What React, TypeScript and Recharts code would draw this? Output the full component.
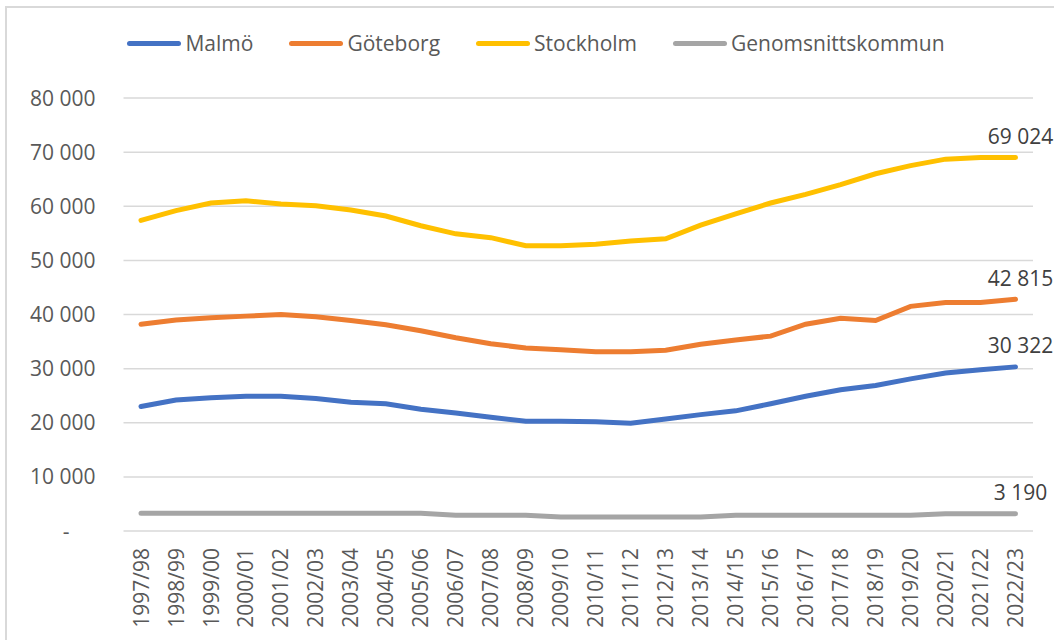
import { CartesianGrid, LabelList, Line, LineChart, XAxis, YAxis } from "recharts";

const years = [
  "1997/98", "1998/99", "1999/00", "2000/01", "2001/02", "2002/03", "2003/04",
  "2004/05", "2005/06", "2006/07", "2007/08", "2008/09", "2009/10", "2010/11",
  "2011/12", "2012/13", "2013/14", "2014/15", "2015/16", "2016/17", "2017/18",
  "2018/19", "2019/20", "2020/21", "2021/22", "2022/23",
];

const malmo = [
  23000, 24200, 24600, 24900, 24900, 24500, 23800, 23500, 22500, 21800, 21000,
  20300, 20300, 20200, 19900, 20700, 21500, 22200, 23500, 24900, 26100, 26900,
  28100, 29200, 29800, 30322,
];

const goteborg = [
  38200, 39000, 39400, 39700, 40000, 39600, 38900, 38100, 37000, 35700, 34600,
  33800, 33500, 33100, 33100, 33400, 34500, 35300, 36000, 38200, 39300, 38900,
  41500, 42200, 42200, 42815,
];

const stockholm = [
  57400, 59200, 60600, 61000, 60400, 60100, 59300, 58200, 56400, 54900, 54200,
  52700, 52700, 53000, 53600, 54000, 56500, 58600, 60600, 62200, 64000, 66000,
  67500, 68700, 69000, 69024,
];

const genomsnitt = [
  3300, 3300, 3300, 3300, 3300, 3300, 3300, 3300, 3300, 2900, 2900, 2900, 2600,
  2600, 2600, 2600, 2600, 2900, 2900, 2900, 2900, 2900, 2900, 3200, 3200, 3190,
];

const yTicks = [0, 10000, 20000, 30000, 40000, 50000, 60000, 70000, 80000];

const series = [
  { key: "malmo", name: "Malmö", color: "#4472C4" },
  { key: "goteborg", name: "Göteborg", color: "#ED7D31" },
  { key: "stockholm", name: "Stockholm", color: "#FFC000" },
  { key: "genomsnitt", name: "Genomsnittskommun", color: "#A5A5A5" },
];

const data = years.map((year, i) => ({
  year,
  malmo: malmo[i],
  goteborg: goteborg[i],
  stockholm: stockholm[i],
  genomsnitt: genomsnitt[i],
}));

const FONT = "'Open Sans', sans-serif";
const fmt = (v: number) => String(Math.round(v)).replace(/\B(?=(\d{3})+(?!\d))/g, " ");

const YTick = ({ x, y, payload }: any) => (
  <text
    x={payload.value === 0 ? x - 26 : x}
    y={y}
    dy="0.36em"
    textAnchor="end"
    fill="#595959"
    fontSize={21}
    fontFamily={FONT}
  >
    {payload.value === 0 ? "-" : fmt(payload.value)}
  </text>
);

const XTick = ({ x, y, payload }: any) => (
  <text
    x={x}
    y={y}
    dy="0.36em"
    transform={`rotate(-90, ${x}, ${y})`}
    textAnchor="end"
    fill="#595959"
    fontSize={21}
    fontFamily={FONT}
  >
    {payload.value}
  </text>
);

const endLabel = (props: any) => {
  const { x, y, value, index } = props;
  if (index !== years.length - 1) return null;
  return (
    <text x={x + 5} y={y - 21} dy="0.36em" textAnchor="middle" fill="#404040" fontSize={21} fontFamily={FONT}>
      {fmt(value)}
    </text>
  );
};

export default function App() {
  return (
    <div
      style={{
        position: "absolute",
        left: 0,
        top: 0,
        width: 1054,
        height: 640,
        overflow: "hidden",
        background: "#fff",
        fontFamily: FONT,
      }}
    >
      <div
        style={{
          position: "absolute",
          left: 5,
          top: 6,
          width: 1080,
          height: 680,
          border: "2px solid #d9d9d9",
        }}
      />
      <div
        style={{
          position: "absolute",
          top: 29,
          left: 0,
          width: 1072,
          display: "flex",
          justifyContent: "center",
          gap: 36,
          fontSize: 21,
          color: "#595959",
        }}
      >
        {series.map((s) => (
          <div key={s.key} style={{ display: "flex", alignItems: "center", gap: 4 }}>
            <span
              style={{ width: 54, height: 5, borderRadius: 3, background: s.color, display: "inline-block" }}
            />
            <span>{s.name}</span>
          </div>
        ))}
      </div>
      <LineChart
        width={1054}
        height={640}
        data={data}
        margin={{ top: 98, right: 21, left: 0, bottom: 0 }}
        style={{ position: "absolute", left: 0, top: 0 }}
      >
        <CartesianGrid vertical={false} stroke="#d9d9d9" strokeWidth={1.5} />
        <XAxis
          dataKey="year"
          axisLine={false}
          tickLine={false}
          interval={0}
          height={109}
          tickMargin={11}
          padding={{ left: 17.5, right: 17.5 }}
          tick={<XTick />}
        />
        <YAxis
          width={123.5}
          domain={[0, 80000]}
          ticks={yTicks}
          axisLine={false}
          tickLine={false}
          tickMargin={22}
          tick={<YTick />}
        />
        {series.map((s) => (
          <Line
            key={s.key}
            type="linear"
            dataKey={s.key}
            name={s.name}
            stroke={s.color}
            strokeWidth={5}
            strokeLinecap="round"
            dot={false}
            activeDot={false}
            isAnimationActive={false}
          >
            <LabelList dataKey={s.key} content={endLabel} />
          </Line>
        ))}
      </LineChart>
    </div>
  );
}
